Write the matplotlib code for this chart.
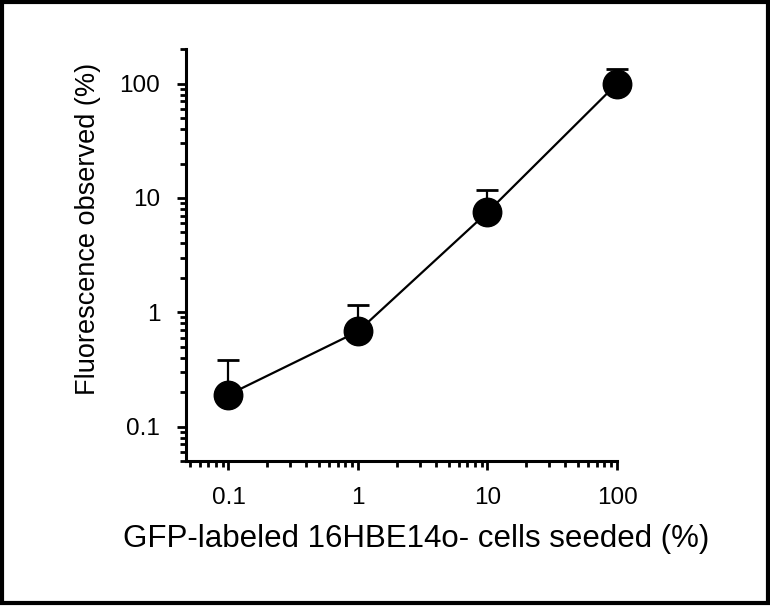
import numpy as np
import matplotlib.pyplot as plt
from matplotlib.patches import Rectangle
from matplotlib.ticker import LogLocator, FixedLocator, NullFormatter

# dados
seeded = [0.1, 1, 10, 100]
observed = [0.19, 0.68, 7.5, 100]
err_up = [0.38, 1.15, 11.7, 135]

xticks = [0.1, 1, 10, 100]
xlabels = ['0.1', '1', '10', '100']
yticks = [0.1, 1, 10, 100]
ylabels = ['0.1', '1', '10', '100']

plt.rcParams['font.family'] = ['Liberation Sans', 'DejaVu Sans']

fig = plt.figure(figsize=(7.7, 6.07), dpi=100)
ax = fig.add_axes([0.2416, 0.2405, 0.8013 - 0.2416, 0.919 - 0.2405])

yerr = np.array([np.zeros(len(observed)), np.array(err_up) - np.array(observed)])
ax.errorbar(seeded, observed, yerr=yerr, fmt='none', ecolor='k',
            elinewidth=1.6, capsize=8, capthick=2, clip_on=False, zorder=2)
ax.plot(seeded, observed, 'k-', lw=1.6, clip_on=False, zorder=3)
ax.plot(seeded, observed, 'ko', ms=20.5, clip_on=False, zorder=4)

ax.set_xscale('log')
ax.set_yscale('log')
ax.set_xlim(0.047, 100)
ax.set_ylim(0.05, 200)

ax.xaxis.set_major_locator(FixedLocator(xticks))
ax.set_xticklabels(xlabels)
ax.yaxis.set_major_locator(FixedLocator(yticks))
ax.set_yticklabels(ylabels)
ax.xaxis.set_minor_locator(LogLocator(base=10, subs=np.arange(2, 10)))
ax.yaxis.set_minor_locator(LogLocator(base=10, subs=np.arange(2, 10)))
ax.xaxis.set_minor_formatter(NullFormatter())
ax.yaxis.set_minor_formatter(NullFormatter())

for s in ['top', 'right']:
    ax.spines[s].set_visible(False)
for s in ['left', 'bottom']:
    ax.spines[s].set_linewidth(2.2)

ax.tick_params(which='major', length=6.5, width=2, labelsize=17.5, pad=12)
ax.tick_params(which='minor', length=4, width=2)

ax.set_xlabel('GFP-labeled 16HBE14o- cells seeded (%)', fontsize=22.5, va='center')
ax.set_ylabel('Fluorescence observed (%)', fontsize=19.5, va='center')
ax.xaxis.set_label_coords(0.534, -0.19)
ax.yaxis.set_label_coords(-0.228, 0.563)

# moldura em volta da figura
fig.patches.append(Rectangle((0.002, 0.006), 0.995, 0.99, transform=fig.transFigure,
                             fill=False, lw=3, ec='k'))

fig.savefig('out.png', dpi=100)
